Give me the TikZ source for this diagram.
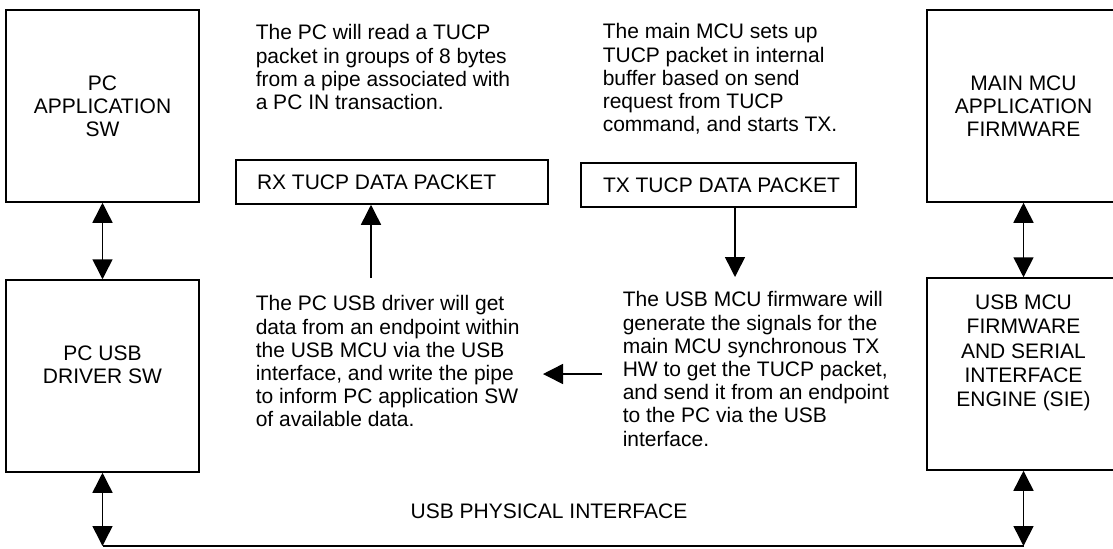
\documentclass[tikz,border=0pt]{standalone}
\usepackage{fontspec}
\setmainfont{Liberation Sans}
\usetikzlibrary{arrows.meta,positioning,calc}

\begin{document}
\begin{tikzpicture}[x=0.5pt, y=-0.5pt, line width=0.75pt,
		>={Triangle[length=10pt,width=10pt]},
		font=\fontsize{10.5}{11.6}\selectfont,
		block/.style={draw, inner sep=0pt, align=center, minimum width=96.5pt, minimum height=96pt},
		packet/.style={draw, inner sep=0pt, minimum height=22pt},
		note/.style={anchor=north west, inner sep=0pt, align=left}]
		\useasboundingbox (0,0) rectangle (1113,548);
		
		% left and right blocks
		\node[block] (pcapp) at (102.5,106) {PC\\APPLICATION\\SW};
		\node[block] (pcdrv) at (102.5,376) {};
		\node[align=center, inner sep=0pt] (pcdrvtext) at (102.5,365) {PC USB\\DRIVER SW};
		\node[block] (mainapp) at (1023.5,106) {MAIN MCU\\APPLICATION\\FIRMWARE};
		\node[block] (usbsie) at (1023.5,374) {};
		\node[align=center, inner sep=0pt, anchor=north, font=\fontsize{10.5}{12.1}\selectfont] (usbsietext)
			at ($(usbsie.north)+(0,17)$) {USB MCU\\FIRMWARE\\AND SERIAL\\INTERFACE\\ENGINE (SIE)};
		
		% data packets
		\node[packet, minimum width=156pt] (rx) at (392,182) {};
		\node[anchor=west, inner sep=0pt] (rxtext) at ($(rx.west)+(21,0)$) {RX TUCP DATA PACKET};
		\node[packet, minimum width=137.5pt] (tx) at (718.5,185) {};
		\node[anchor=west, inner sep=0pt] (txtext) at ($(tx.west)+(22,0)$) {TX TUCP DATA PACKET};
		
		% notes
		\node[note] (rxnote) at (255,24) {The PC will read a TUCP\\packet in groups of 8 bytes\\from a pipe associated with\\a PC IN transaction.};
		\node[note] (txnote) at (602,23) {The main MCU sets up\\TUCP packet in internal\\buffer based on send\\request from TUCP\\command, and starts TX.};
		\node[note] (drvnote) at (255,295) {The PC USB driver will get\\data from an endpoint within\\the USB MCU via the USB\\interface, and write the pipe\\to inform PC application SW\\of available data.};
		\node[note] (fwnote) at (622,291) {The USB MCU firmware will\\generate the signals for the\\main MCU synchronous TX\\HW to get the TUCP packet,\\and send it from an endpoint\\to the PC via the USB\\interface.};
		
		% arrows
		\draw[<->] (pcapp) -- (pcdrv);
		\draw[<->] (mainapp) -- (usbsie);
		\coordinate (rxtail) at (371,278);
		\draw[->] (rxtail) -- (rxtail |- rx.south);
		\coordinate (txtip) at (735,277);
		\draw[->] (txtip |- tx.south) -- (txtip);
		\coordinate (lfttail) at (602,374);
		\coordinate (lfttip) at (543,374);
		\draw[->] (lfttail) -- (lfttip);
		
		% usb bus
		\coordinate (busy) at (0,546);
		\coordinate (busl) at (pcdrv.south |- busy);
		\coordinate (busr) at (usbsie.south |- busy);
		\draw[<->] (pcdrv.south) -- (busl);
		\draw[<->] (usbsie.south) -- (busr);
		\draw[line width=1pt] (busl) -- (busr);
		\node[anchor=base, inner sep=0pt] (busname) at (549,518) {USB PHYSICAL INTERFACE};
	\end{tikzpicture}
\end{document}
